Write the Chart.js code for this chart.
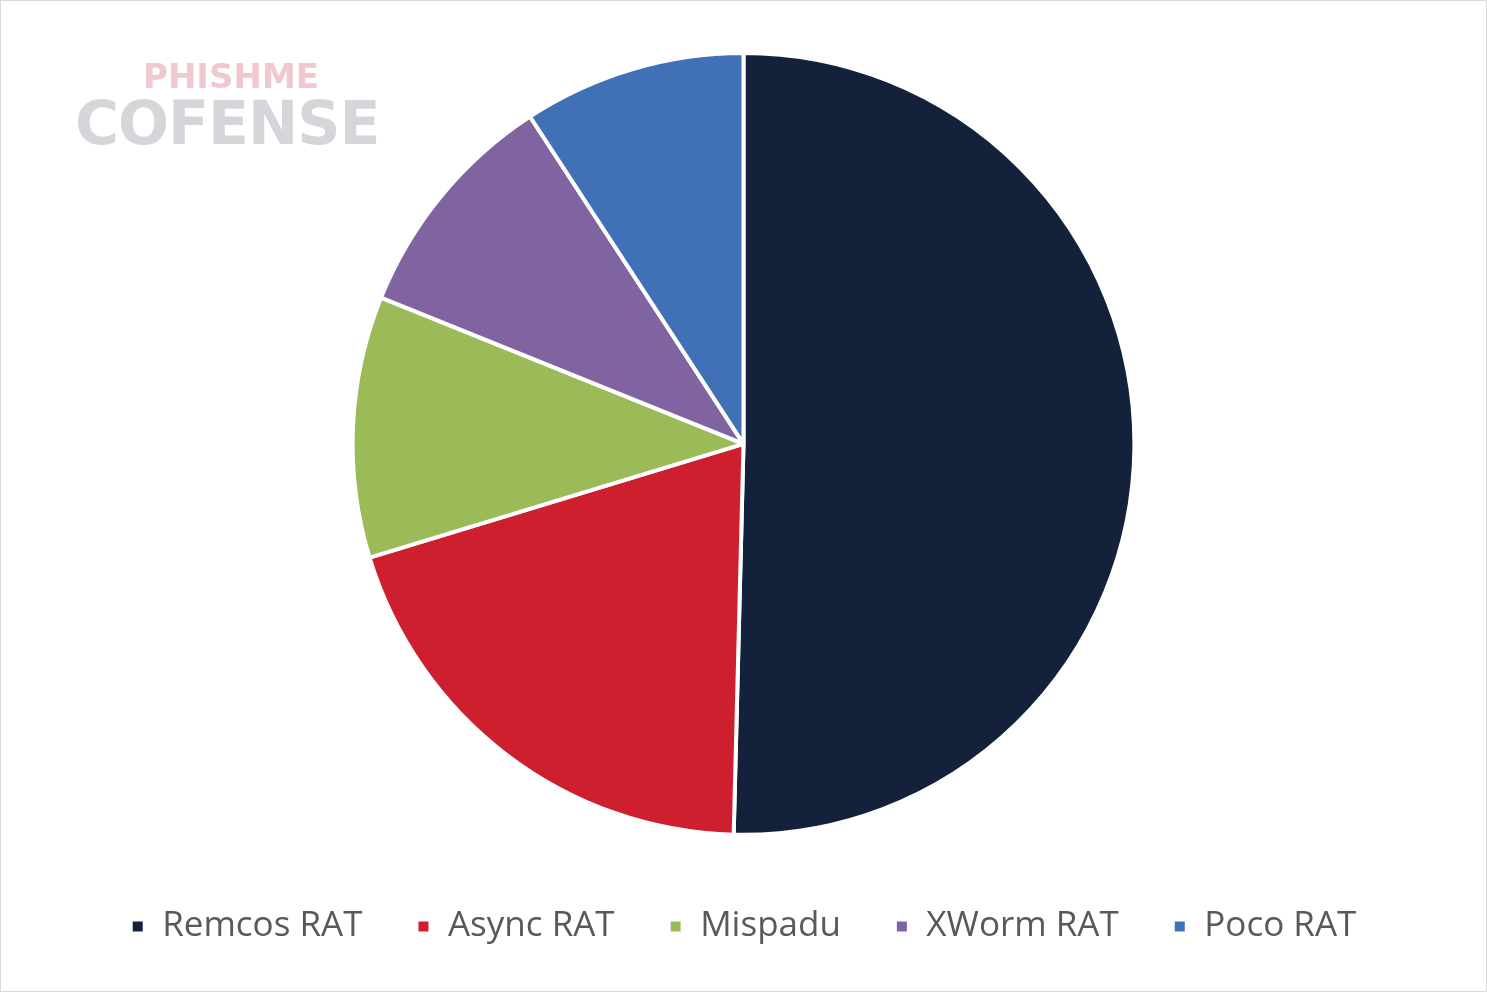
<!DOCTYPE html>
<html>
<head>
<meta charset="utf-8">
<script src="https://cdn.jsdelivr.net/npm/chart.js@4"></script>
<style>
  html, body { margin: 0; padding: 0; background: #fff; }
  #wrap { position: relative; width: 1485px; height: 990px; border: 1px solid #d9d9d9; }
  #logo { position: absolute; left: 74px; top: 58px; font-family: 'DejaVu Sans', sans-serif; font-weight: bold; line-height: 1; }
  #logo .a { color: #f0c8cf; font-size: 34px; margin-left: 68px; }
  #logo .b { color: #d4d6da; font-size: 60px; letter-spacing: -1px; }
</style>
</head>
<body>
<div id="wrap">
  <div id="logo"><div class="a">PHISHME</div><div class="b">COFENSE</div></div>
  <canvas id="chartFamilias" width="1485" height="990"></canvas>
</div>
<script>
const familias = ['Remcos RAT', 'Async RAT', 'Mispadu', 'XWorm RAT', 'Poco RAT'];
const percentuais = [50.4, 19.9, 10.8, 9.7, 9.2];
const cores = ['#13223a', '#cd1f2e', '#9bbb59', '#8064a2', '#4071b7'];

const ctx = document.getElementById('chartFamilias').getContext('2d');
const chartFamilias = new Chart(ctx, {
    type: 'pie',
    data: {
        labels: familias,
        datasets: [{
            data: percentuais,
            backgroundColor: cores,
            borderColor: '#ffffff',
            borderWidth: 4
        }]
    },
    options: {
        responsive: false,
        animation: false,
        layout: { padding: { top: 50, bottom: 37 } },
        plugins: {
            tooltip: { enabled: false },
            legend: {
                position: 'bottom',
                title: { display: true, text: ' ', font: { size: 1 }, padding: { top: 0, bottom: 17 } },
                labels: {
                    color: '#595959',
                    font: { family: 'Open Sans', size: 35 },
                    boxWidth: 14,
                    boxHeight: 14,
                    padding: 54
                }
            }
        }
    }
});
</script>
</body>
</html>
